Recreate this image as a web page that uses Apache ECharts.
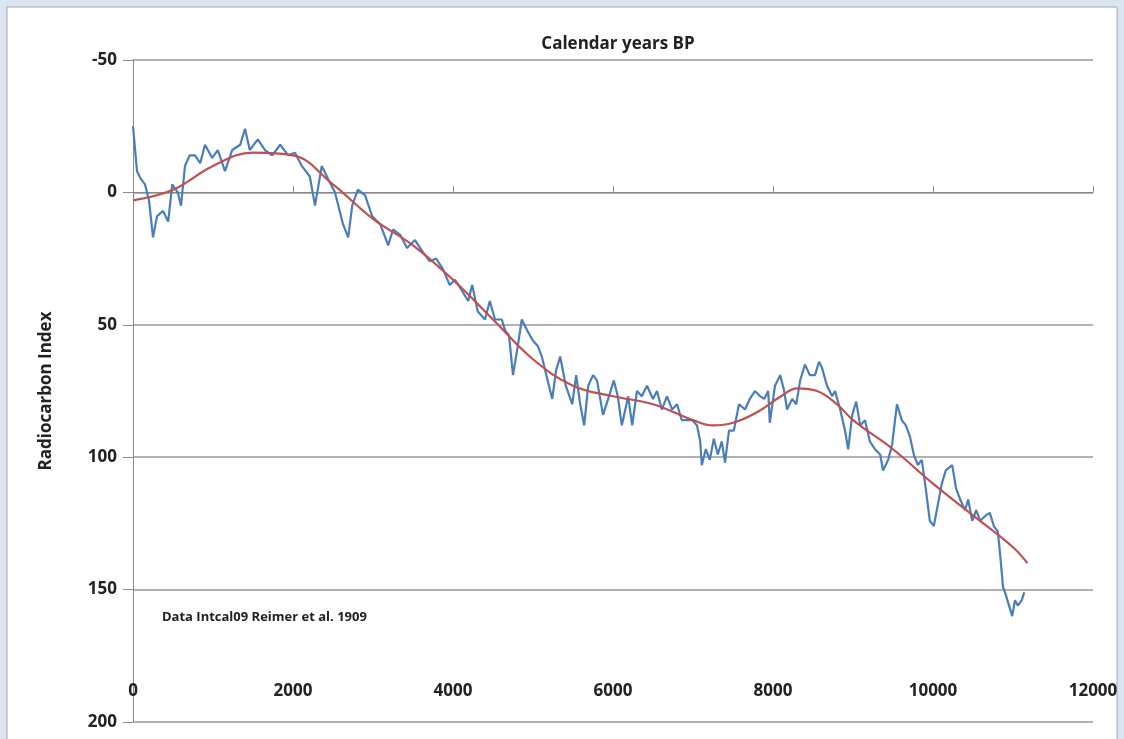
<!DOCTYPE html>
<html>
<head>
<meta charset="utf-8">
<script src="https://cdn.jsdelivr.net/npm/echarts@6/dist/echarts.min.js"></script>
<style>
  html, body { margin: 0; padding: 0; background: #dce6f1; }
  #chart { width: 1124px; height: 739px; }
</style>
</head>
<body>
<div id="chart"></div>
<script>
// raw radiocarbon index, [calendar years BP, value]
var rawYears = [0,50,100,150,200,250,300,375,440,490,560,600,650,710,775,840,900,990,1060,1150,1240,1340,1400,1460,1560,1650,1740,1840,1940,2025,2110,2210,2275,2360,2440,2525,2625,2690,2740,2810,2900,2990,3090,3190,3250,3340,3425,3525,3610,3710,3790,3875,3960,4025,4110,4190,4240,4310,4400,4460,4525,4610,4650,4700,4750,4810,4860,4925,5000,5060,5110,5175,5240,5290,5340,5410,5490,5540,5590,5640,5690,5750,5800,5875,5940,6010,6060,6110,6190,6240,6300,6360,6425,6500,6550,6610,6675,6740,6800,6860,6925,6990,7050,7090,7110,7160,7210,7260,7310,7360,7400,7450,7510,7575,7650,7710,7775,7840,7890,7940,7960,8025,8090,8140,8175,8240,8290,8340,8400,8460,8525,8575,8610,8675,8740,8775,8840,8900,8940,8990,9040,9090,9150,9210,9275,9340,9375,9440,9490,9525,9550,9610,9660,9710,9760,9810,9860,9910,9960,10010,10060,10110,10160,10240,10290,10340,10400,10440,10490,10540,10590,10660,10710,10760,10810,10840,10875,10910,10960,10990,11025,11060,11110,11140];
var rawValues = [-25,-8,-5,-3,3,17,9,7,11,-3,0,5,-10,-14,-14,-11,-18,-13,-16,-8,-16,-18,-24,-16,-20,-16,-14,-18,-14,-15,-10,-6,5,-10,-5,0,12,17,5,-1,1,9,12,20,14,16,21,18,22,26,25,29,35,33,37,41,35,45,48,41,48,48,52,54,69,58,48,52,56,58,62,70,78,67,62,73,80,69,80,88,73,69,71,84,78,71,77,88,77,88,75,77,73,78,75,82,77,82,80,86,86,86,88,94,103,97,101,93,99,94,102,90,90,80,82,78,75,77,78,75,87,73,69,75,82,78,80,71,65,69,69,64,66,73,77,75,82,90,97,84,79,88,86,94,97,99,105,101,95,86,80,86,88,92,99,103,101,112,124,126,118,110,105,103,112,116,120,116,124,120,124,122,121,126,128,137,149,152,157,160,154,156,154,151];

// smoothed trend
var trendYears = [0,500,1000,1500,2000,2500,3000,3500,4000,4500,5000,5500,6000,6500,7000,7250,7500,7800,8100,8300,8550,8800,9000,9500,10000,10500,11000,11180];
var trendValues = [3,-1,-10,-15,-14,-3,10,20,33,48,63,73,77,80,86,88,87,83,77,74,75,80,86,97,110,122,134,140];

function pairs(xs, ys) {
    return xs.map(function (x, i) { return [x, ys[i]]; });
}

var myChart = echarts.init(document.getElementById('chart'));
var font = '"Open Sans", sans-serif';

var option = {
    backgroundColor: '#dce6f1',
    animation: false,
    graphic: [
        {
            type: 'rect', z: -10,
            shape: { x: 7, y: 7, width: 1110, height: 740 },
            style: { fill: '#ffffff', stroke: '#a0a8b4', lineWidth: 1 }
        },
        {
            type: 'text', left: 162, top: 611,
            style: { text: 'Data Intcal09 Reimer et al. 1909', font: 'bold 13px ' + font, fill: '#222' }
        }
    ],
    title: {
        text: 'Calendar years BP',
        left: 613, top: 31, textAlign: 'center',
        textStyle: { fontFamily: font, fontSize: 17, fontWeight: 'bold', color: '#222' }
    },
    grid: { left: 133, top: 60, right: 31, bottom: 17 },
    xAxis: {
        type: 'value', min: 0, max: 12000, interval: 2000,
        axisLine: { lineStyle: { color: '#888' } },
        axisTick: { inside: true, length: 6, lineStyle: { color: '#888' } },
        axisLabel: {
            inside: true, margin: 22, color: '#222', fontFamily: font, fontWeight: 'bold', fontSize: 17,
            formatter: function (v) { return String(v); }
        },
        splitLine: { show: false }
    },
    yAxis: {
        type: 'value', inverse: true, min: -50, max: 200, interval: 50,
        name: 'Radiocarbon Index', nameLocation: 'middle', nameGap: 78, nameRotate: 90,
        nameTextStyle: { fontFamily: font, fontWeight: 'bold', fontSize: 17, color: '#222' },
        axisLine: { show: true, lineStyle: { color: '#888' } },
        axisTick: { show: true, length: 10, lineStyle: { color: '#888' } },
        axisLabel: { margin: 16, color: '#222', fontFamily: font, fontWeight: 'bold', fontSize: 17 },
        splitLine: { lineStyle: { color: '#999', width: 1.5 } }
    },
    series: [
        {
            name: 'raw', type: 'line', data: pairs(rawYears, rawValues),
            showSymbol: false, lineStyle: { color: '#4a7ebb', width: 2.2 }
        },
        {
            name: 'trend', type: 'line', data: pairs(trendYears, trendValues),
            smooth: 0.4, showSymbol: false, lineStyle: { color: '#c0504d', width: 2.2 }
        }
    ]
};

myChart.setOption(option);
</script>
</body>
</html>
